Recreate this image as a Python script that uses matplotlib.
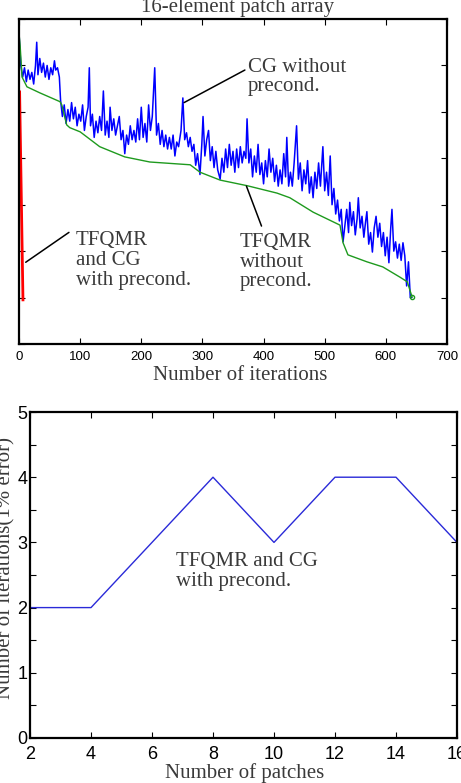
import matplotlib
matplotlib.use("Agg")
import matplotlib.pyplot as plt

# ---- top panel: residual history (log10 scale units, axis 0..7) ----
cg_iter = [0, 3, 6, 9, 12, 15, 18, 21, 24, 27, 29, 31, 34, 37, 40, 43, 46, 49, 52, 55,
           58, 60, 63, 66, 68, 71, 74, 77, 80, 83, 86, 89, 92, 95, 98, 101, 104, 107, 110, 113,
           115, 117, 120, 123, 126, 129, 132, 135, 138, 141, 144, 147, 149, 152, 155, 158, 161, 164, 167, 170,
           173, 176, 179, 182, 185, 188, 191, 194, 197, 200, 203, 206, 209, 212, 215, 218, 222, 225, 228, 231,
           234, 237, 240, 243, 246, 249, 252, 255, 258, 261, 265, 268, 271, 274, 277, 280, 283, 286, 289, 292,
           296, 299, 301, 304, 307, 310, 313, 316, 319, 322, 325, 329, 332, 335, 338, 341, 344, 347, 350, 353,
           356, 359, 362, 365, 368, 371, 373, 376, 379, 382, 385, 388, 391, 394, 397, 400, 403, 406, 409, 412,
           415, 418, 421, 424, 427, 430, 433, 436, 438, 441, 444, 447, 450, 454, 457, 460, 463, 466, 469, 472,
           475, 478, 481, 484, 487, 490, 493, 497, 500, 503, 506, 509, 512, 515, 518, 521, 524, 527, 530, 533,
           536, 539, 541, 544, 547, 550, 553, 555, 558, 561, 564, 567, 569, 572, 575, 578, 581, 584, 587, 590,
           593, 596, 599, 602, 605, 608, 610, 613, 616, 619, 622, 625, 628, 631, 634, 637, 640, 642]
cg_res = [6.7, 6.0, 5.75, 5.95, 5.65, 5.9, 5.7, 5.85, 5.6, 6.0, 6.5, 5.8, 6.15, 5.85, 6.05, 5.75, 6.0, 5.7, 5.95, 5.8,
          6.1, 5.9, 5.95, 5.75, 5.25, 4.9, 5.15, 4.75, 5.05, 4.8, 5.2, 4.85, 5.1, 4.7, 4.95, 4.8, 5.15, 4.6, 4.9, 5.1,
          5.95, 4.7, 4.95, 4.45, 4.8, 4.55, 4.9, 4.6, 5.45, 4.5, 4.8, 4.45, 5.1, 4.6, 4.85, 4.5, 4.7, 4.9, 4.4, 4.6,
          4.1, 4.5, 4.3, 4.7, 4.4, 4.6, 4.35, 4.85, 4.4, 5.1, 4.45, 4.75, 4.35, 5.15, 4.6, 4.9, 5.95, 4.5, 4.75, 4.3,
          4.6, 4.25, 4.5, 4.2, 4.45, 4.2, 4.5, 4.05, 4.35, 4.25, 4.6, 5.3, 4.4, 4.55, 4.25, 4.45, 4.15, 4.3, 3.85, 4.1,
          3.65, 4.3, 4.9, 4.05, 4.4, 4.6, 3.95, 4.25, 3.8, 4.15, 3.75, 3.55, 4.0, 3.7, 4.2, 3.8, 4.3, 3.85, 4.15, 3.7,
          4.2, 3.8, 4.25, 3.9, 4.15, 4.0, 4.85, 3.9, 4.2, 3.6, 4.05, 3.7, 4.3, 3.65, 3.9, 3.45, 3.95, 3.6, 4.2, 3.7,
          4.0, 3.5, 3.85, 3.4, 3.75, 3.45, 4.1, 3.6, 4.45, 3.4, 3.7, 3.4, 3.9, 4.7, 3.55, 3.9, 3.3, 3.75, 3.45, 3.95,
          3.25, 3.6, 3.15, 3.7, 3.35, 3.9, 3.4, 4.25, 3.3, 3.7, 3.2, 4.05, 3.0, 3.35, 2.8, 3.1, 2.65, 2.9, 2.2, 2.55,
          2.9, 2.4, 3.05, 2.55, 2.85, 2.35, 2.7, 3.15, 2.5, 2.75, 2.3, 2.65, 2.85, 2.15, 2.4, 1.98, 2.5, 2.75, 2.3, 2.6,
          2.1, 2.4, 1.9, 2.3, 1.75, 2.5, 2.9, 2.0, 2.2, 1.85, 2.15, 1.8, 2.18, 1.9, 1.25, 1.77, 1.0, 1.0]

tfqmr_iter = [0, 2, 5, 13, 34, 67, 70, 78, 83, 100, 132, 173, 214, 280, 296, 329, 373, 422, 443,
              481, 514, 525, 530, 538, 569, 595, 623, 635, 643]
tfqmr_res = [6.7, 6.4, 5.75, 5.54, 5.41, 5.22, 5.15, 4.72, 4.66, 4.57, 4.25, 4.03, 3.92, 3.86, 3.7,
             3.53, 3.41, 3.25, 3.15, 2.84, 2.63, 2.56, 2.18, 1.92, 1.77, 1.66, 1.44, 1.34, 1.01]

prec_iter = [1, 6.5]
prec_res = [5.43, 0.95]

# ---- bottom panel ----
patches = [2, 4, 8, 10, 12, 14, 16]
iters_1pct = [2, 2, 4, 3, 4, 4, 3]

serif = ['Liberation Serif', 'DejaVu Serif']
sans = ['Liberation Sans', 'DejaVu Sans']
txt_col = '#3a3a3a'

fig = plt.figure(figsize=(4.61, 7.83), dpi=100)

# top axes
ax1 = fig.add_axes([0.0412, 0.5607, 0.9284, 0.415])
ax1.plot(cg_iter, cg_res, color='#0000ff', lw=1.1)
ax1.plot(tfqmr_iter, tfqmr_res, color='#1e9a1e', lw=1.0)
ax1.plot(tfqmr_iter[-1:], tfqmr_res[-1:], 'o', mfc='none', mec='#1e9a1e', ms=3)
ax1.plot(prec_iter, prec_res, color='#ff0000', lw=2.0)
ax1.set_xlim(0, 700)
ax1.set_ylim(0, 7)
ax1.set_xticks(range(0, 701, 100))
ax1.set_yticks(range(0, 8))
ax1.set_yticklabels([])
ax1.tick_params(direction='in', top=True, right=True, length=4, pad=5,
                labelsize=9.5)
for lab in ax1.get_xticklabels():
    lab.set_family(sans)
for s in ax1.spines.values():
    s.set_linewidth(1.6)

ax1.annotate('CG without\nprecond.', xy=(270, 5.2), xytext=(374, 5.75),
             fontsize=15, family=serif, color=txt_col, va='center', ha='left',
             linespacing=1.05,
             arrowprops=dict(arrowstyle='-', color='black', lw=1.1,
                             shrinkA=0, shrinkB=0, relpos=(0, 0.72)))
ax1.annotate('TFQMR\nand CG\nwith precond.', xy=(11, 1.76), xytext=(93, 1.8),
             fontsize=15, family=serif, color=txt_col, va='center', ha='left',
             linespacing=1.05,
             arrowprops=dict(arrowstyle='-', color='black', lw=1.1,
                             shrinkA=0, shrinkB=0, relpos=(-0.06, 0.98)))
ax1.annotate('TFQMR\nwithout\nprecond.', xy=(372, 3.4), xytext=(361, 1.76),
             fontsize=15, family=serif, color=txt_col, va='center', ha='left',
             linespacing=1.05,
             arrowprops=dict(arrowstyle='-', color='black', lw=1.1,
                             shrinkA=0, shrinkB=0, relpos=(0.3, 1.12)))

fig.text(0.516, 0.991, '16-element patch array', ha='center', va='center',
         fontsize=15, family=serif, color=txt_col)
fig.text(0.521, 0.521, 'Number of iterations', ha='center', va='center',
         fontsize=15, family=serif, color=txt_col)

# bottom axes
ax2 = fig.add_axes([0.0651, 0.0575, 0.9262, 0.4163])
ax2.plot(patches, iters_1pct, color='#2a2ad8', lw=1.0)
ax2.set_xlim(2, 16)
ax2.set_ylim(0, 5)
ax2.set_xticks(range(2, 17, 2))
ax2.set_yticks([0, 0.5, 1, 1.5, 2, 2.5, 3, 3.5, 4, 4.5, 5])
ax2.set_yticklabels(['0', '', '1', '', '2', '', '3', '', '4', '', '5'])
ax2.tick_params(direction='in', top=True, right=True, length=4, labelsize=13)
ax2.tick_params(axis='x', pad=6)
ax2.tick_params(axis='y', pad=2)
for lab in ax2.get_xticklabels() + ax2.get_yticklabels():
    lab.set_family(sans)
for s in ax2.spines.values():
    s.set_linewidth(1.6)

ax2.text(6.8, 2.55, 'TFQMR and CG\nwith precond.', fontsize=15, family=serif,
         color=txt_col, va='center', ha='left', linespacing=1.05)
fig.text(0.012, 0.2746, 'Number of iterations(1% error)', rotation=90,
         ha='center', va='center', fontsize=15, family=serif, color=txt_col)
fig.text(0.531, 0.0128, 'Number of patches', ha='center', va='center',
         fontsize=15, family=serif, color=txt_col)

fig.savefig('out.png', dpi=100)
